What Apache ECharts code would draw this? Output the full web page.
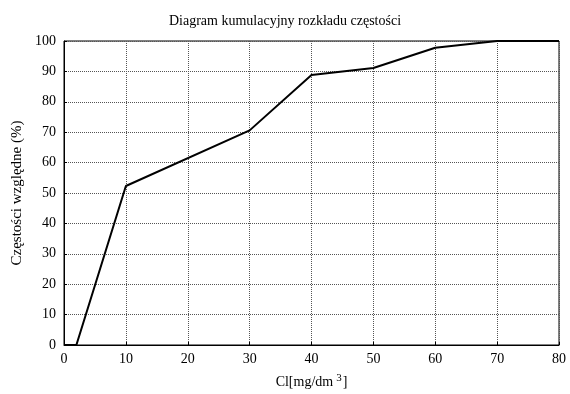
<!DOCTYPE html>
<html><head><meta charset="utf-8">
<script src="https://cdn.jsdelivr.net/npm/echarts@6/dist/echarts.min.js"></script>
<style>html,body{margin:0;padding:0;background:#fff}#c{width:570px;height:394px}</style>
</head><body><div id="c"></div>
<script>
const xValues = [0, 2, 10, 30, 40, 50, 60, 70, 80];
const yValues = [0, 0, 52.3, 70.6, 88.8, 91.1, 97.8, 100, 100];
const titleText = 'Diagram kumulacyjny rozkładu częstości';
const yName = 'Częstości względne (%)';

const chart = echarts.init(document.getElementById('c'));
const font = 'Liberation Serif';
chart.setOption({
  animation: false,
  title: { text: titleText, left: 'center', top: 9,
    textStyle: { fontFamily: font, fontSize: 14, fontWeight: 'normal', color: '#000' } },
  grid: { left: 64, right: 11, top: 41, bottom: 49, show: true, borderColor: '#000', borderWidth: 1,
    outerBoundsMode: 'none', containLabel: false },
  xAxis: {
    type: 'value', min: 0, max: 80, interval: 10,
    name: '{a|Cl[mg/dm}{s|3}{a|]}', nameLocation: 'middle', nameGap: 28,
    nameTextStyle: { rich: { a: { fontFamily: font, fontSize: 14, color: '#000' }, s: { fontFamily: font, fontSize: 11, color: '#000', verticalAlign: 'top', padding: [0,1,8,3] } } },
    axisLine: { lineStyle: { color: '#000' } },
    axisTick: { show: true, inside: true, length: 3, lineStyle: { color: '#000' } },
    axisLabel: { fontFamily: font, fontSize: 14, color: '#000', margin: 7 },
    splitLine: { show: true, lineStyle: { color: '#555', type: [1, 1], width: 1 } }
  },
  yAxis: {
    type: 'value', min: 0, max: 100, interval: 10,
    name: yName, nameLocation: 'middle', nameGap: 39,
    nameTextStyle: { fontFamily: font, fontSize: 15, color: '#000' },
    axisLine: { show: true, lineStyle: { color: '#000' } },
    axisTick: { show: true, inside: true, length: 3, lineStyle: { color: '#000' } },
    axisLabel: { fontFamily: font, fontSize: 14, color: '#000', margin: 8 },
    splitLine: { show: true, lineStyle: { color: '#555', type: [1, 1], width: 1 } }
  },
  series: [{
    type: 'line', data: xValues.map((x, i) => [x, yValues[i]]),
    symbol: 'none', lineStyle: { color: '#000', width: 2 }, clip: false
  }]
});
</script></body></html>
